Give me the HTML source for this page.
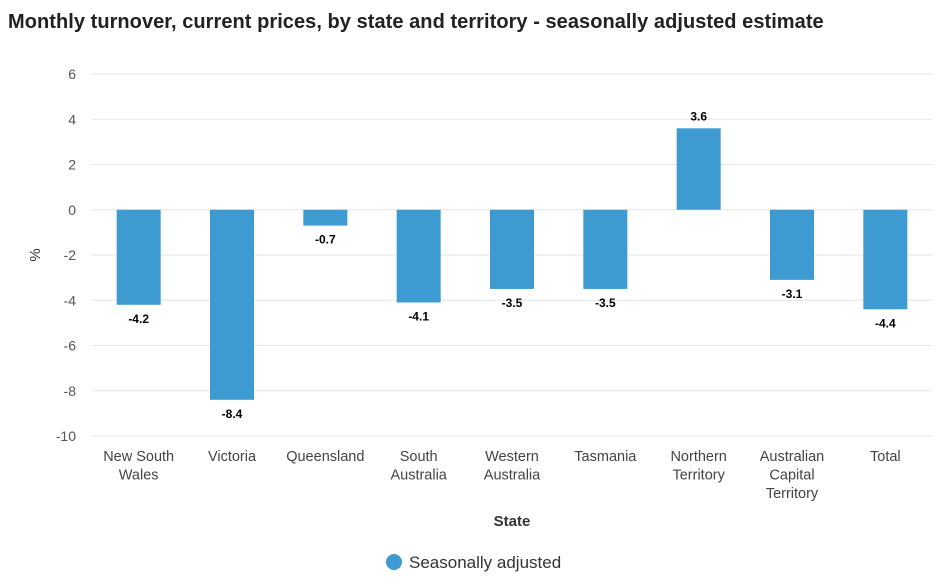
<!DOCTYPE html>
<html><head><meta charset="utf-8"><style>
body{margin:0;background:#fff;font-family:"Liberation Sans",sans-serif;}
svg text{font-family:"Liberation Sans",sans-serif;}
</style></head><body>
<svg id="c" width="940" height="583">
<text x="8" y="28" font-size="20" font-weight="600" letter-spacing="0.05" fill="#222">Monthly turnover, current prices, by state and territory - seasonally adjusted estimate</text>
<g id="grid"></g><g id="bars"></g>
<text transform="translate(40,255) rotate(-90)" text-anchor="middle" font-size="15" fill="#333">%</text>
<text x="512" y="526" text-anchor="middle" font-size="15" font-weight="bold" fill="#333">State</text>
<g><circle cx="394" cy="562" r="8" fill="#3d9bd1"/><text x="409" y="568" font-size="17" fill="#333">Seasonally adjusted</text></g>
</svg>
<script>
const categories=[["New South","Wales"],["Victoria"],["Queensland"],["South","Australia"],["Western","Australia"],["Tasmania"],["Northern","Territory"],["Australian","Capital","Territory"],["Total"]];
const values=[-4.2,-8.4,-0.7,-4.1,-3.5,-3.5,3.6,-3.1,-4.4];
const yTicks=[6,4,2,0,-2,-4,-6,-8,-10];
const NS="http://www.w3.org/2000/svg";
const L=92,R=932,T=74,B=436,ymax=6,ymin=-10;
const y=v=>T+(ymax-v)/(ymax-ymin)*(B-T);
const step=(R-L)/categories.length;
const x=i=>L+step*(i+0.5);
function mk(t,a,p){const e=document.createElementNS(NS,t);for(const k in a)e.setAttribute(k,a[k]);p.appendChild(e);return e;}
const g=document.getElementById('grid'),b=document.getElementById('bars');
yTicks.forEach(t=>{
 const l=mk('line',{x1:L,x2:R,y1:y(t),y2:y(t),stroke:'#e6e6e6','stroke-width':1},g);
 
 
 const tx=mk('text',{x:76,y:y(t)+5,'text-anchor':'end','font-size':14,fill:'#555'},g);
 tx.textContent=t;
 
 
});
categories.forEach((c,i)=>{
 const v=values[i],y0=y(0),yv=y(v);
 const r=mk('rect',{x:x(i)-22,y:Math.min(y0,yv),width:44,height:Math.abs(yv-y0),fill:'#3d9bd1'},b);
 
 
 const lb=mk('text',{x:x(i),y:v<0?yv+18:yv-8,'text-anchor':'middle','font-size':12,'font-weight':'bold',fill:'#000'},b);
 lb.textContent=v.toFixed(1);
 
 
 const ct=mk('text',{'text-anchor':'middle','font-size':14.5,fill:'#444'},b);
 
 
 c.forEach((s,j)=>{const ts=mk('tspan',{x:x(i),y:461+j*18.5},ct);ts.textContent=s;});
});
</script>
</body></html>
